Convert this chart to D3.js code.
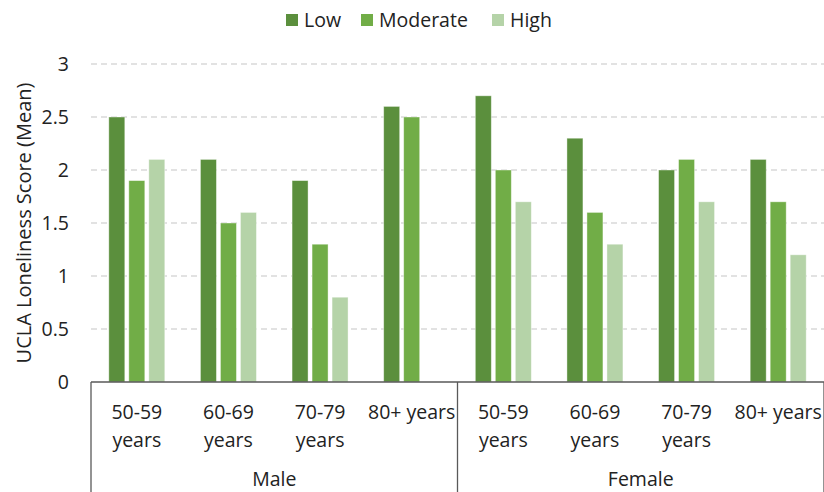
<!DOCTYPE html>
<html><head><meta charset="utf-8">
<script src="https://cdn.jsdelivr.net/npm/d3@7"></script>
<style>body{margin:0;background:#fff}svg{display:block}text{font-family:"Open Sans",sans-serif;fill:#222}</style>
</head><body><svg id="c" width="824" height="492"></svg>
<script>
const groups = ["Male","Female"];
const ages = ["50-59 years","60-69 years","70-79 years","80+ years"];
const ageLines = [["50-59","years"],["60-69","years"],["70-79","years"],["80+ years"]];
const series = ["Low","Moderate","High"];
const colors = ["#5b8f3d","#71ad47","#b5d3a8"];
const lowVals = [2.5,2.1,1.9,2.6, 2.7,2.3,2.0,2.1];
const modVals = [1.9,1.5,1.3,2.5, 2.0,1.6,2.1,1.7];
const highVals = [2.1,1.6,0.8,null, 1.7,1.3,1.7,1.2];
const yTicks = [0,0.5,1,1.5,2,2.5,3];

(function(){
const svg = d3.select("#c");
const pL=91, pR=824, pT=64, pB=382;
const FS = 19.5;
const cats = [];
groups.forEach(g=>ages.forEach(a=>cats.push(g+"|"+a)));
const x = d3.scaleBand().domain(cats).range([pL,pR]).padding(0);
const y = d3.scaleLinear().domain([0,3]).range([pB,pT]);
const inner = d3.scaleBand().domain(series).range([0,56]).paddingInner(0.2);
const vals = [lowVals,modVals,highVals];

svg.append("g").selectAll("line").data(yTicks.filter(t=>t>0)).join("line")
  .attr("x1",pL).attr("x2",pR).attr("y1",d=>y(d)).attr("y2",d=>y(d))
  .attr("stroke","#d9d9d9").attr("stroke-width",1.3).attr("stroke-dasharray","6,4");
svg.append("g").selectAll("text").data(yTicks).join("text")
  .attr("x",69).attr("y",d=>y(d)+7).attr("text-anchor","end")
  .style("font-size",FS+"px").text(d=>d);
svg.append("text").attr("transform",`translate(31,${(pT+pB)/2}) rotate(-90)`)
  .attr("text-anchor","middle").style("font-size","20px").text("UCLA Loneliness Score (Mean)");

series.forEach((s,si)=>{
  svg.append("g").selectAll("rect").data(cats.map((c,i)=>({c,v:vals[si][i]})).filter(d=>d.v!=null)).join("rect")
    .attr("x",d=>x(d.c)+x.bandwidth()/2-28+inner(s)).attr("width",inner.bandwidth())
    .attr("y",d=>y(d.v)).attr("height",d=>pB-y(d.v)).attr("fill",colors[si])
    .attr("stroke","#ffffff").attr("stroke-opacity",0.5).attr("stroke-width",0.8);
});

const ax = svg.append("g").attr("stroke","#595959").attr("stroke-width",1.3);
ax.append("line").attr("x1",pL).attr("x2",pR).attr("y1",pB).attr("y2",pB);
[pL, x(cats[4]), pR].forEach(xx=>{
  ax.append("line").attr("x1",xx).attr("x2",xx).attr("y1",pB).attr("y2",492);
});

cats.forEach((c,i)=>{
  const lines = ageLines[i%4];
  const t = svg.append("text").attr("text-anchor","middle").style("font-size",FS+"px");
  lines.forEach((l,li)=>t.append("tspan").attr("x",x(c)+x.bandwidth()/2).attr("y",419+li*28).text(l));
});
groups.forEach((g,gi)=>{
  svg.append("text").attr("x",x(cats[gi*4])+x.bandwidth()*2).attr("y",486)
    .attr("text-anchor","middle").style("font-size",FS+"px").text(g);
});

const legX = [286,361,492];
series.forEach((s,si)=>{
  svg.append("rect").attr("x",legX[si]).attr("y",14).attr("width",12).attr("height",12).attr("fill",colors[si]);
  svg.append("text").attr("x",legX[si]+18).attr("y",27).style("font-size",FS+"px").text(s);
});
})();
</script></body></html>
